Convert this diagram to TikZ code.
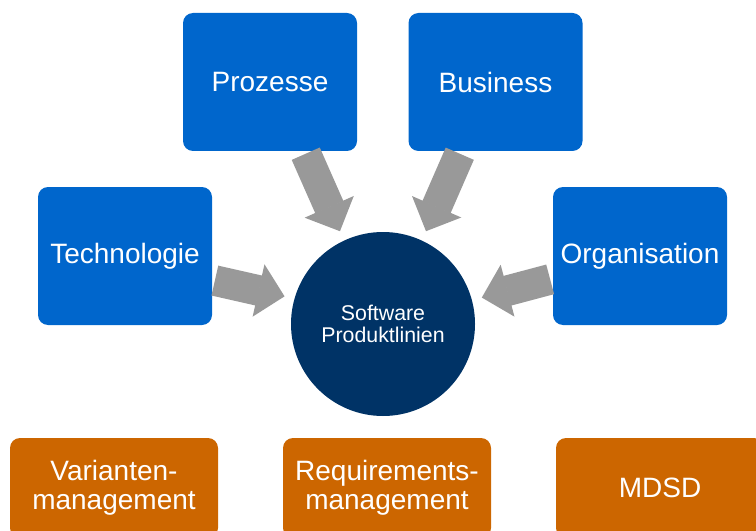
\documentclass[tikz,border=0pt]{standalone}
\usepackage{fontspec}
\setmainfont{Liberation Sans}
\usetikzlibrary{arrows.meta}
\definecolor{boxblau}{RGB}{0,102,204}
\definecolor{kernblau}{RGB}{0,51,102}
\definecolor{boxorange}{RGB}{204,102,0}
\definecolor{pfeilgrau}{RGB}{153,153,153}
\tikzset{
	thema/.style = { fill = boxblau, rounded corners = 7.5pt, minimum width = 130.5pt, minimum height = 103.5pt, inner sep = 0pt, text = white, font = \fontsize{21}{24}\selectfont },
	feld/.style = { fill = boxorange, rounded corners = 7.5pt, minimum width = 156pt, minimum height = 75pt, inner sep = 0pt, text = white, align = center, font = \fontsize{21}{22}\selectfont },
	kern/.style = { circle, fill = kernblau, minimum size = 138pt, inner sep = 0pt, text = white, align = center, font = \fontsize{16}{17}\selectfont },
	pfeil/.style = { draw = pfeilgrau, line width = 23pt, -{Triangle[ length = 20pt, width = 40pt, line width = 1.5pt, fill = pfeilgrau ]}, shorten < = 2pt, shorten > = 7.5pt }
}
\begin{document}
\begin{tikzpicture}[x = 0.75pt, y = -0.75pt]
		\useasboundingbox ( 0, 0 ) rectangle ( 756, 531 );
		\clip ( 0, 0 ) rectangle ( 756, 531 );

		% Einflussfaktoren
		\node [thema] (prozesse) at ( 270, 82 ) {Prozesse};
		\node [thema] (business) at ( 495.5, 82 ) {Business};
		\node [thema] (technologie) at ( 125, 256 ) {Technologie};
		\node [thema] (organisation) at ( 640, 256 ) {Organisation};

		% Kern
		\node [kern] (spl) at ( 383, 324 ) {Software\\Produktlinien};

		% Pfeile zum Kern
		\draw [pfeil] ([xshift=26pt]prozesse.south) -- (spl.115);
		\draw [pfeil] ([xshift=-26pt]business.south) -- (spl.65);
		\draw [pfeil] ([yshift=-18pt]technologie.east) -- (spl.164);
		\draw [pfeil] ([yshift=-17pt]organisation.west) -- (spl.15);

		% Methoden
		\node [feld] (varianten) at ( 114, 488 ) {Varianten-\\management};
		\node [feld] (requirements) at ( 387, 488 ) {Requirements-\\management};
		\node [feld] (mdsd) at ( 660, 488 ) {MDSD};
\end{tikzpicture}
\end{document}
